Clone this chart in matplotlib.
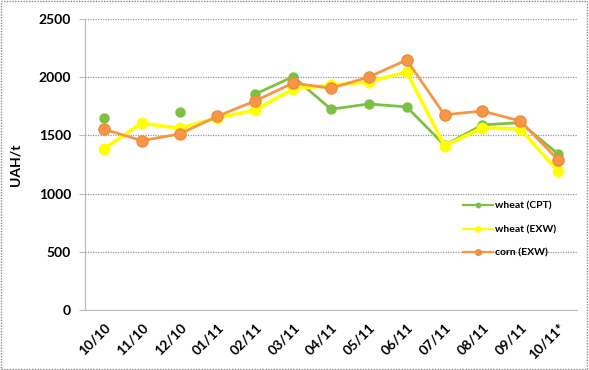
import numpy as np
import matplotlib.pyplot as plt
from matplotlib.patches import Rectangle

months = ['10/10', '11/10', '12/10', '01/11', '02/11', '03/11', '04/11',
          '05/11', '06/11', '07/11', '08/11', '09/11', '10/11*']
wheat_cpt = [1650, np.nan, 1700, np.nan, 1855, 2005, 1725, 1770, 1745, 1415, 1590, 1610, 1340]
wheat_exw = [1385, 1606, 1560, 1650, 1718, 1900, 1930, 1960, 2045, 1410, 1565, 1555, 1195]
corn_exw = [1553, 1455, 1512, 1665, 1797, 1950, 1905, 2002, 2148, 1677, 1710, 1624, 1290]

plt.rcParams['font.family'] = 'Lato'
plt.rcParams['font.weight'] = 'bold'

fig = plt.figure(figsize=(5.89, 3.70), dpi=100)
ax = fig.add_axes([0.1443, 0.1622, 0.8353, 0.7864])

x = np.arange(len(months))
ax.plot(x, wheat_cpt, color='#7DC142', lw=2, marker='o', ms=6.5, label='wheat (CPT)', zorder=3)
ax.plot(x, wheat_exw, color='#FFFF00', lw=2.6, marker='o', ms=7.5, label='wheat (EXW)', zorder=4)
ax.plot(x, corn_exw, color='#F79646', lw=2, marker='o', ms=8, mec='#F08A3A', label='corn (EXW)', zorder=5)

ax.set_xlim(-0.5, len(months) - 0.5)
ax.set_ylim(0, 2500)
ax.set_yticks(range(0, 2501, 500))
ax.set_xticks(x)
ax.set_xticklabels(months, rotation=45, ha='right', rotation_mode='anchor', fontsize=10, fontweight='bold')
for lab in ax.get_yticklabels():
    lab.set_fontsize(10)
    lab.set_fontweight('bold')
ax.set_ylabel('UAH/t', fontsize=10, fontweight='bold')
ax.yaxis.set_label_coords(-0.13, 0.5)

ax.yaxis.grid(True, color='#999999', ls=(0, (1, 1)), lw=0.9)
ax.set_axisbelow(True)
for s in ['top', 'right']:
    ax.spines[s].set_visible(False)
ax.spines['left'].set_color('#BBBBBB')
ax.spines['bottom'].set_color('#BBBBBB')
ax.tick_params(axis='y', length=4, color='#BBBBBB', pad=6)
ax.tick_params(axis='x', length=0, pad=8)

leg = ax.legend(loc='upper left', bbox_to_anchor=(0.75, 0.405), frameon=False,
                fontsize=7.5, labelspacing=1.35, handlelength=2.8, handletextpad=0.2,
                markerscale=0.5)
for t in leg.get_texts():
    t.set_fontweight('bold')
for h in leg.legend_handles:
    h.set_linewidth(1.6)

fig.patches.append(Rectangle((0.002, 0.003), 0.995, 0.993, transform=fig.transFigure,
                             fill=False, ec='#888888', lw=1, ls=(0, (1, 1))))

fig.savefig('out.png', dpi=100)
